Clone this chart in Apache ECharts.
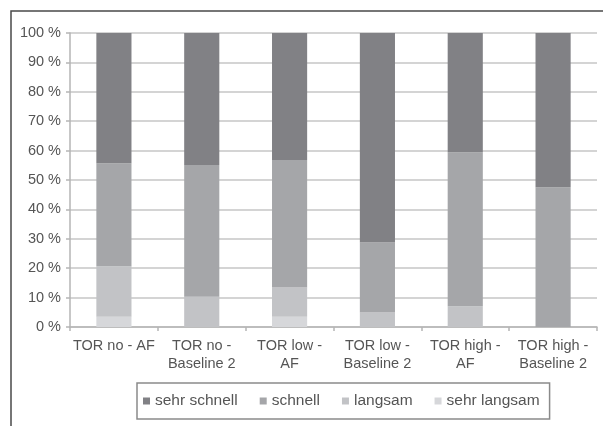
<!DOCTYPE html>
<html>
<head>
<meta charset="utf-8">
<script src="https://cdn.jsdelivr.net/npm/echarts@6/dist/echarts.min.js"></script>
<style>html,body{margin:0;padding:0;background:#fff}#c{width:603px;height:426px}</style>
</head>
<body>
<div id="c"></div>
<script>
var categories = ['TOR no - AF', 'TOR no -\nBaseline 2', 'TOR low -\nAF', 'TOR low -\nBaseline 2', 'TOR high -\nAF', 'TOR high -\nBaseline 2'];
var seriesNames = ['sehr schnell', 'schnell', 'langsam', 'sehr langsam'];
var sehrLangsam = [3.5, 0, 3.5, 0, 0, 0];
var langsam = [17.2, 10.3, 9.9, 4.9, 7.1, 0];
var schnell = [35.0, 44.8, 43.4, 23.8, 52.3, 47.5];
var sehrSchnell = [44.3, 44.9, 43.2, 71.3, 40.6, 52.5];
var yTicks = [0, 10, 20, 30, 40, 50, 60, 70, 80, 90, 100];

var colors = {'sehr schnell': '#818185', 'schnell': '#a5a6a9', 'langsam': '#c2c3c6', 'sehr langsam': '#d6d7da'};
var font = 'Liberation Sans, Arial, sans-serif';

function mk(name, data) {
  return {name: name, type: 'bar', stack: 'a', data: data, barWidth: '40%',
    itemStyle: {color: colors[name]}, emphasis: {disabled: true}};
}

var chart = echarts.init(document.getElementById('c'), null, {renderer: 'canvas'});
chart.setOption({
  animation: false,
  backgroundColor: '#fff',
  graphic: [{type: 'rect', shape: {x: 11, y: 11, width: 700, height: 500}, style: {fill: 'none', stroke: '#4a4a4a', lineWidth: 1.5}, silent: true}],
  grid: {left: 70, right: 6, top: 33, bottom: 99},
  legend: {
    data: seriesNames, left: 137, top: 383, padding: [10, 10, 10, 6], itemGap: 22,
    itemWidth: 7, itemHeight: 7, icon: 'rect', borderColor: '#8a8a8a', borderWidth: 1.5,
    textStyle: {fontFamily: font, fontSize: 15.5, color: '#555'}, itemStyle: {borderWidth: 0}
  },
  xAxis: {
    type: 'category', data: categories,
    axisLine: {lineStyle: {color: '#b5b5b5', width: 1.5}},
    axisTick: {show: true, length: 4, lineStyle: {color: '#b5b5b5', width: 1.5}},
    axisLabel: {fontFamily: font, fontSize: 14.5, color: '#555', lineHeight: 18, margin: 10, interval: 0}
  },
  yAxis: {
    type: 'value', min: yTicks[0], max: yTicks[yTicks.length - 1], interval: 10,
    axisLine: {show: true, lineStyle: {color: '#b5b5b5', width: 1.5}},
    axisTick: {show: true, length: 4, lineStyle: {color: '#b5b5b5', width: 1.5}},
    axisLabel: {fontFamily: font, fontSize: 14.5, color: '#555', margin: 9, formatter: '{value} %'},
    splitLine: {lineStyle: {color: '#c6c6c6', width: 1.5}}
  },
  series: [mk('sehr langsam', sehrLangsam), mk('langsam', langsam), mk('schnell', schnell), mk('sehr schnell', sehrSchnell)]
});
</script>
</body>
</html>
